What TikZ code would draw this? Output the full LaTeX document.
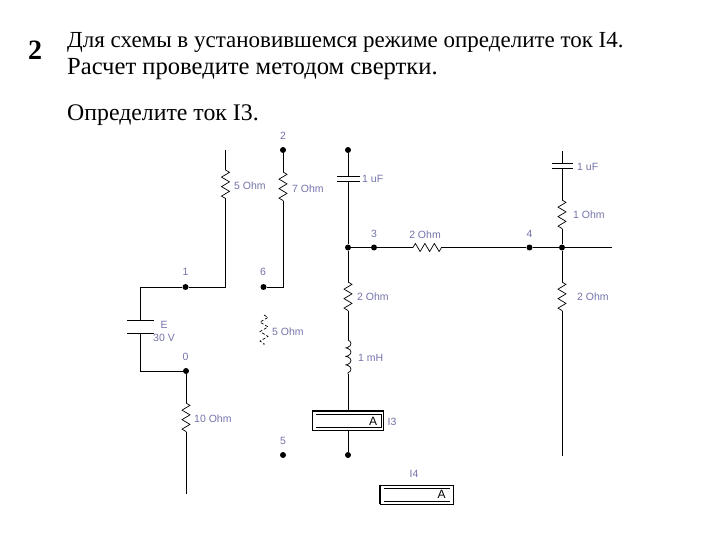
\documentclass[tikz,border=0pt]{standalone}
\usepackage{fontspec}
\setmainfont{Liberation Serif}
\setsansfont{Liberation Sans}
\usetikzlibrary{decorations.pathmorphing}
\definecolor{lblue}{RGB}{115,115,170}
\tikzset{
  wire/.style={line width=0.9pt},
  res/.style={line width=0.7pt,decorate,decoration={zigzag,segment length=9.5pt,amplitude=4pt}},
  dot/.style={circle,fill=black,inner sep=0pt,minimum size=6pt},
  lbl/.style={text=lblue,font=\sffamily\fontsize{10.5}{11}\selectfont,inner sep=0pt},
  head/.style={anchor=base west,inner sep=0pt},
  ammeter/.style={draw,line width=0.9pt,fill=white,minimum height=19pt,inner sep=0pt},
  amtext/.style={font=\sffamily\fontsize{12}{12}\selectfont,inner sep=0pt}
}
\begin{document}
\begin{tikzpicture}[x=1pt,y=-1pt]
  \useasboundingbox (0,0) rectangle (720,540);

  % heading
  \node[head,font=\bfseries\fontsize{28}{30}\selectfont] (t0) at (28,60) {2};
  \node[head,font=\fontsize{23}{26}\selectfont] (t1) at (67,48) {Для схемы в установившемся режиме определите ток I4.};
  \node[head,font=\fontsize{24.6}{26}\selectfont] (t2) at (67,75) {Расчет проведите методом свертки.};
  \node[head,font=\fontsize{23.8}{26}\selectfont] (t3) at (67,121) {Определите ток I3.};

  % junctions
  \node[dot] (n1) at (185.5,287) {};
  \node[dot] (n6) at (263.5,287) {};
  \node[dot] (n2) at (283,150) {};
  \node[dot] (na) at (348,150) {};
  \node[dot] (nb) at (348,247.5) {};
  \node[dot] (n3) at (374,247.5) {};
  \node[dot] (n4) at (529.5,247.5) {};
  \node[dot] (nc) at (562,247.5) {};
  \node[dot] (n0) at (186,371) {};
  \node[dot] (n5) at (283,455) {};
  \node[dot] (nd) at (348,455) {};

  % free ends and corners
  \coordinate (a1) at (225.5,150);
  \coordinate (a2) at (225.5,170);
  \coordinate (a3) at (225.5,199);
  \coordinate (a4) at (225.5,287);
  \coordinate (b1) at (283,172);
  \coordinate (b2) at (283,201);
  \coordinate (b3) at (283,287);
  \coordinate (c1) at (140.5,287);
  \coordinate (c2) at (140.5,320);
  \coordinate (c3) at (140.5,333);
  \coordinate (c4) at (140.5,371);
  \coordinate (d1) at (186,403);
  \coordinate (d2) at (186,432);
  \coordinate (d3) at (186,494);
  \coordinate (e1) at (348,176);
  \coordinate (e2) at (348,181);
  \coordinate (e3) at (348,282);
  \coordinate (e4) at (348,311);
  \coordinate (e5) at (348,340);
  \coordinate (e6) at (348,374);
  \coordinate (f1) at (413,247.5);
  \coordinate (f2) at (442,247.5);
  \coordinate (f3) at (612,247.5);
  \coordinate (g1) at (562,151);
  \coordinate (g2) at (562,163);
  \coordinate (g3) at (562,168);
  \coordinate (g4) at (562,200);
  \coordinate (g5) at (562,229);
  \coordinate (g6) at (562,282);
  \coordinate (g7) at (562,311);
  \coordinate (g8) at (562,456);
  \coordinate (h1) at (264,315);
  \coordinate (h2) at (264,345);

  % ammeters
  \node[ammeter,minimum width=71pt] (am3) at (348,421) {};
  \node[ammeter,minimum width=73pt] (am4) at (416.5,494.5) {};
  \node[amtext] (am3a) at (373,421) {A};
  \node[amtext] (am4a) at (441.5,494.5) {A};
  \draw[line width=2pt] (am3.north west) -- (am3.north east);
  \draw[line width=2pt] (am4.north west) -- (am4.south west);
  \draw[line width=0.7pt] (316,414.5) -- (381,414.5) -- (381,427.5) -- (316,427.5);
  \draw[line width=0.7pt] (383.5,488) -- (450,488) (383.5,501) -- (450,501);

  % wires
  \draw[wire] (a1) -- (a2);
  \draw[res] (a2) -- (a3);
  \draw[wire] (a3) -- (a4) -- (n1) -- (c1) -- (c2);
  \draw[wire] (n2) -- (b1);
  \draw[res] (b1) -- (b2);
  \draw[wire] (b2) -- (b3) -- (n6);
  \draw[wire] (c3) -- (c4) -- (n0) -- (d1);
  \draw[res] (d1) -- (d2);
  \draw[wire] (d2) -- (d3);
  \draw[wire] (na) -- (e1);
  \draw[wire] (e2) -- (nb) -- (e3);
  \draw[res] (e3) -- (e4);
  \draw[wire] (e4) -- (e5);
  \draw[line width=0.7pt,decorate,decoration={coil,aspect=0.5,segment length=8.5pt,amplitude=3pt}] (e5) -- (e6);
  \draw[wire] (e6) -- (am3);
  \draw[wire] (am3) -- (nd);
  \draw[wire] (nb) -- (n3) -- (f1);
  \draw[res] (f1) -- (f2);
  \draw[wire] (f2) -- (n4) -- (nc) -- (f3);
  \draw[wire] (g1) -- (g2);
  \draw[wire] (g3) -- (g4);
  \draw[res] (g4) -- (g5);
  \draw[wire] (g5) -- (nc) -- (g6);
  \draw[res] (g6) -- (g7);
  \draw[wire] (g7) -- (g8);
  \draw[res,densely dashed] (h1) -- (h2);

  % capacitor plates
  \draw[wire] (337,176) -- (360,176) (337,181) -- (360,181);
  \draw[wire] (552,163) -- (573,163) (552,168) -- (573,168);
  \draw[wire] (127,320) -- (154,320) (127,333) -- (154,333);

  % labels
  \node[lbl,anchor=west] (l1) at (234,186) {5 Ohm};
  \node[lbl,anchor=west] (l2) at (292,189) {7 Ohm};
  \node[lbl,anchor=west] (l3) at (362,179) {1 uF};
  \node[lbl,anchor=west] (l4) at (577,167) {1 uF};
  \node[lbl,anchor=west] (l5) at (573,215) {1 Ohm};
  \node[lbl,anchor=west] (l6) at (357,297) {2 Ohm};
  \node[lbl,anchor=west] (l7) at (577,297) {2 Ohm};
  \node[lbl,anchor=west] (l8) at (272,332) {5 Ohm};
  \node[lbl,anchor=west] (l9) at (194,419) {10 Ohm};
  \node[lbl,anchor=west] (l10) at (358,358) {1 mH};
  \node[lbl] (l11) at (425,235) {2 Ohm};
  \node[lbl] (l12) at (164,325) {E};
  \node[lbl] (l13) at (164,338) {30 V};
  \node[lbl] (l14) at (185.5,272) {1};
  \node[lbl] (l15) at (263,272) {6};
  \node[lbl] (l16) at (283,136) {2};
  \node[lbl] (l17) at (374,234) {3};
  \node[lbl] (l18) at (529.5,234) {4};
  \node[lbl] (l19) at (185.5,357) {0};
  \node[lbl] (l20) at (283,441) {5};
  \node[lbl] (l21) at (392,422) {I3};
  \node[lbl] (l22) at (414,474) {I4};
\end{tikzpicture}
\end{document}
